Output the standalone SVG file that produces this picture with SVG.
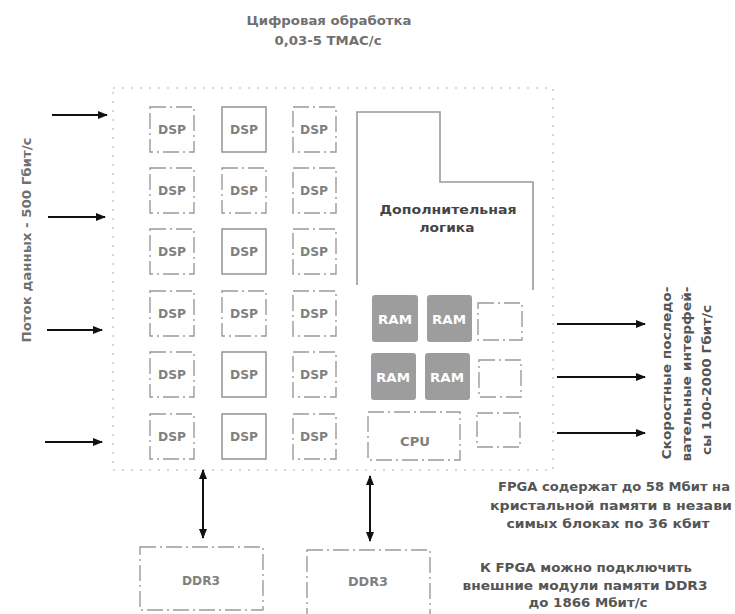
<svg xmlns="http://www.w3.org/2000/svg" width="735" height="614" viewBox="0 0 735 614">
<style>
text{font-family:"DejaVu Sans","Liberation Sans",sans-serif;fill:#707070;font-size:12px;text-anchor:middle;font-weight:bold}
.note{fill:#555;font-size:12px}
.lbl{fill:#808080;font-size:12px}
.box{fill:none;stroke:#9a9a9a;stroke-width:1.4;stroke-dasharray:16 4 2 4}
.solid{fill:none;stroke:#9a9a9a;stroke-width:1.6}
.outer{fill:none;stroke:#b0b0b0;stroke-width:1;stroke-dasharray:2 7}
.ram{fill:#9d9d9d;stroke:none}
.ramt{fill:#fff;font-size:12px}
.arr{stroke:#111;stroke-width:2;fill:none}
</style>
<defs>
<marker id="ah" viewBox="0 0 10 10" refX="9" refY="5" markerWidth="5" markerHeight="5" orient="auto-start-reverse">
<path d="M0,1 L10,5 L0,9 z" fill="#111"/>
</marker>
</defs>

<g id="title">
<text x="329" y="25" textLength="165" lengthAdjust="spacingAndGlyphs">Цифровая обработка</text>
<text x="328" y="45" textLength="107" lengthAdjust="spacingAndGlyphs">0,03-5 ТМАС/с</text>
</g>

<g id="fpga">
<rect class="outer" x="113" y="88" width="440" height="382"/>
</g>

<g id="dsp">
<g id="dsp-r1c1"><rect class="box" x="150" y="107" width="44" height="45"/><text class="lbl" x="172" y="134" textLength="28" lengthAdjust="spacingAndGlyphs">DSP</text></g>
<g id="dsp-r1c2"><rect class="solid" x="222" y="107" width="44" height="45"/><text class="lbl" x="244" y="134" textLength="28" lengthAdjust="spacingAndGlyphs">DSP</text></g>
<g id="dsp-r1c3"><rect class="box" x="293" y="107" width="43" height="45"/><text class="lbl" x="314" y="134" textLength="28" lengthAdjust="spacingAndGlyphs">DSP</text></g>
<g id="dsp-r2c1"><rect class="box" x="150" y="168" width="44" height="45"/><text class="lbl" x="172" y="195" textLength="28" lengthAdjust="spacingAndGlyphs">DSP</text></g>
<g id="dsp-r2c2"><rect class="box" x="222" y="168" width="44" height="45"/><text class="lbl" x="244" y="195" textLength="28" lengthAdjust="spacingAndGlyphs">DSP</text></g>
<g id="dsp-r2c3"><rect class="box" x="293" y="168" width="43" height="45"/><text class="lbl" x="314" y="195" textLength="28" lengthAdjust="spacingAndGlyphs">DSP</text></g>
<g id="dsp-r3c1"><rect class="box" x="150" y="229" width="44" height="45"/><text class="lbl" x="172" y="256" textLength="28" lengthAdjust="spacingAndGlyphs">DSP</text></g>
<g id="dsp-r3c2"><rect class="solid" x="222" y="229" width="44" height="45"/><text class="lbl" x="244" y="256" textLength="28" lengthAdjust="spacingAndGlyphs">DSP</text></g>
<g id="dsp-r3c3"><rect class="box" x="293" y="229" width="43" height="45"/><text class="lbl" x="314" y="256" textLength="28" lengthAdjust="spacingAndGlyphs">DSP</text></g>
<g id="dsp-r4c1"><rect class="box" x="150" y="291" width="44" height="45"/><text class="lbl" x="172" y="318" textLength="28" lengthAdjust="spacingAndGlyphs">DSP</text></g>
<g id="dsp-r4c2"><rect class="box" x="222" y="291" width="44" height="45"/><text class="lbl" x="244" y="318" textLength="28" lengthAdjust="spacingAndGlyphs">DSP</text></g>
<g id="dsp-r4c3"><rect class="box" x="293" y="291" width="43" height="45"/><text class="lbl" x="314" y="318" textLength="28" lengthAdjust="spacingAndGlyphs">DSP</text></g>
<g id="dsp-r5c1"><rect class="box" x="150" y="352" width="44" height="45"/><text class="lbl" x="172" y="379" textLength="28" lengthAdjust="spacingAndGlyphs">DSP</text></g>
<g id="dsp-r5c2"><rect class="solid" x="222" y="352" width="44" height="45"/><text class="lbl" x="244" y="379" textLength="28" lengthAdjust="spacingAndGlyphs">DSP</text></g>
<g id="dsp-r5c3"><rect class="box" x="293" y="352" width="43" height="45"/><text class="lbl" x="314" y="379" textLength="28" lengthAdjust="spacingAndGlyphs">DSP</text></g>
<g id="dsp-r6c1"><rect class="box" x="150" y="414" width="44" height="45"/><text class="lbl" x="172" y="441" textLength="28" lengthAdjust="spacingAndGlyphs">DSP</text></g>
<g id="dsp-r6c2"><rect class="solid" x="222" y="414" width="44" height="45"/><text class="lbl" x="244" y="441" textLength="28" lengthAdjust="spacingAndGlyphs">DSP</text></g>
<g id="dsp-r6c3"><rect class="box" x="293" y="414" width="43" height="45"/><text class="lbl" x="314" y="441" textLength="28" lengthAdjust="spacingAndGlyphs">DSP</text></g>
</g>

<g id="logic">
<path class="solid" d="M357,285 V112 H440 V182 H533 V290"/>
<text x="448" y="214" style="fill:#444" textLength="137" lengthAdjust="spacingAndGlyphs">Дополнительная</text>
<text x="447" y="232" style="fill:#444" textLength="55" lengthAdjust="spacingAndGlyphs">логика</text>
</g>

<g id="ram">
<g id="ram1"><rect class="ram" x="372" y="295" width="46" height="47" rx="3"/><text class="ramt" x="395" y="324" textLength="34" lengthAdjust="spacingAndGlyphs">RAM</text></g>
<g id="ram2"><rect class="ram" x="427" y="295" width="45" height="47" rx="3"/><text class="ramt" x="449" y="324" textLength="34" lengthAdjust="spacingAndGlyphs">RAM</text></g>
<g id="ram3"><rect class="ram" x="371" y="353" width="45" height="47" rx="3"/><text class="ramt" x="393" y="382" textLength="34" lengthAdjust="spacingAndGlyphs">RAM</text></g>
<g id="ram4"><rect class="ram" x="425" y="353" width="45" height="47" rx="3"/><text class="ramt" x="447" y="382" textLength="34" lengthAdjust="spacingAndGlyphs">RAM</text></g>
</g>

<g id="io">
<rect class="box" x="478" y="303" width="44" height="37"/>
<rect class="box" x="479" y="360" width="42" height="37"/>
<rect class="box" x="477" y="413" width="43" height="34"/>
</g>

<g id="cpu">
<rect class="box" x="368" y="412" width="92" height="48"/>
<text class="lbl" x="415" y="446" textLength="30" lengthAdjust="spacingAndGlyphs">CPU</text>
</g>

<g id="ddr3-1">
<rect class="box" x="140" y="547" width="123" height="63"/>
<text class="lbl" x="201" y="585" textLength="38" lengthAdjust="spacingAndGlyphs">DDR3</text>
</g>
<g id="ddr3-2">
<rect class="box" x="307" y="550" width="123" height="70"/>
<text class="lbl" x="368" y="586" textLength="40" lengthAdjust="spacingAndGlyphs">DDR3</text>
</g>

<g id="connectors">
<line class="arr" x1="52" y1="115" x2="107" y2="115" marker-end="url(#ah)"/>
<line class="arr" x1="48" y1="217" x2="105" y2="217" marker-end="url(#ah)"/>
<line class="arr" x1="47" y1="330" x2="102" y2="330" marker-end="url(#ah)"/>
<line class="arr" x1="45" y1="442" x2="102" y2="442" marker-end="url(#ah)"/>
<line class="arr" x1="557" y1="324" x2="645" y2="324" marker-end="url(#ah)"/>
<line class="arr" x1="557" y1="377" x2="645" y2="377" marker-end="url(#ah)"/>
<line class="arr" x1="557" y1="433" x2="645" y2="433" marker-end="url(#ah)"/>
<line class="arr" x1="203" y1="470" x2="203" y2="538" marker-start="url(#ah)" marker-end="url(#ah)"/>
<line class="arr" x1="370" y1="476" x2="370" y2="541" marker-start="url(#ah)" marker-end="url(#ah)"/>
</g>

<g id="labels">
<text x="0" y="0" transform="translate(31,240) rotate(-90)" textLength="205" lengthAdjust="spacingAndGlyphs">Поток данных - 500 Гбит/с</text>
<text class="note" x="0" y="0" transform="translate(671,373) rotate(-90)" textLength="173" lengthAdjust="spacingAndGlyphs">Скоростные последо-</text>
<text class="note" x="0" y="0" transform="translate(691,374) rotate(-90)" textLength="175" lengthAdjust="spacingAndGlyphs">вательные интерфей-</text>
<text class="note" x="0" y="0" transform="translate(711,380) rotate(-90)" textLength="150" lengthAdjust="spacingAndGlyphs">сы 100-2000 Гбит/с</text>
<text class="note" x="614" y="491" textLength="232" lengthAdjust="spacingAndGlyphs">FPGA содержат до 58 Мбит на</text>
<text class="note" x="611" y="510" textLength="242" lengthAdjust="spacingAndGlyphs">кристальной памяти в незави</text>
<text class="note" x="608" y="528" textLength="203" lengthAdjust="spacingAndGlyphs">симых блоках по 36 кбит</text>
<text class="note" x="586" y="572" textLength="212" lengthAdjust="spacingAndGlyphs">К FPGA можно подключить</text>
<text class="note" x="585" y="590" textLength="245" lengthAdjust="spacingAndGlyphs">внешние модули памяти DDR3</text>
<text class="note" x="588" y="607" textLength="119" lengthAdjust="spacingAndGlyphs">до 1866 Мбит/с</text>
</g>
</svg>
